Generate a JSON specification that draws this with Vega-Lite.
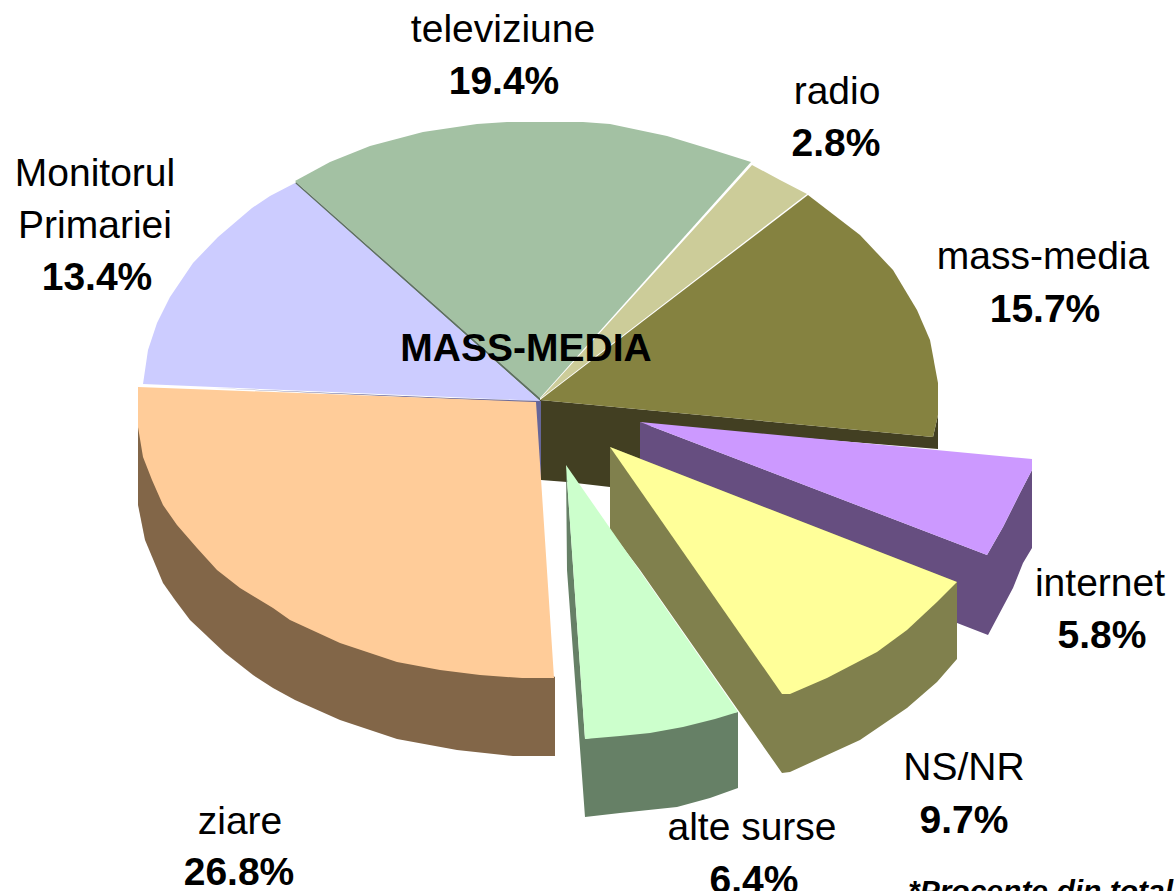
{"$schema":"https://vega.github.io/schema/vega-lite/v6.json","width":1174,"height":891,"padding":0,"autosize":{"type":"none"},"background":"white","config":{"view":{"stroke":null}},
"layer":[
{"data":{"values":[
{"p":"back","i":0,"x":540,"y":400},{"p":"back","i":1,"x":933,"y":437},{"p":"back","i":2,"x":938,"y":415},{"p":"back","i":3,"x":938,"y":449},{"p":"back","i":4,"x":640,"y":425},{"p":"back","i":5,"x":640,"y":460},{"p":"back","i":6,"x":610,"y":450},{"p":"back","i":7,"x":610,"y":487},{"p":"back","i":8,"x":567,"y":482},{"p":"back","i":9,"x":541,"y":480},
{"p":"televiziune","i":0,"x":540,"y":398},{"p":"televiziune","i":1,"x":295,"y":181},{"p":"televiziune","i":2,"x":330,"y":162},{"p":"televiziune","i":3,"x":370,"y":146},{"p":"televiziune","i":4,"x":423,"y":132},{"p":"televiziune","i":5,"x":477,"y":124},{"p":"televiziune","i":6,"x":507,"y":122},{"p":"televiziune","i":7,"x":583,"y":122},{"p":"televiziune","i":8,"x":610,"y":124},{"p":"televiziune","i":9,"x":667,"y":136},{"p":"televiziune","i":10,"x":713,"y":150},{"p":"televiziune","i":11,"x":751,"y":162},
{"p":"tvedge","i":0,"x":296,"y":182},{"p":"tvedge","i":1,"x":540,"y":398},{"p":"tvedge","i":2,"x":540,"y":401},{"p":"tvedge","i":3,"x":295,"y":184},
{"p":"radio","i":0,"x":540,"y":399},{"p":"radio","i":1,"x":752,"y":165},{"p":"radio","i":2,"x":780,"y":180},{"p":"radio","i":3,"x":807,"y":194},
{"p":"massmedia","i":0,"x":540,"y":400},{"p":"massmedia","i":1,"x":808,"y":195},{"p":"massmedia","i":2,"x":860,"y":235},{"p":"massmedia","i":3,"x":893,"y":270},{"p":"massmedia","i":4,"x":917,"y":310},{"p":"massmedia","i":5,"x":930,"y":340},{"p":"massmedia","i":6,"x":938,"y":383},{"p":"massmedia","i":7,"x":938,"y":415},{"p":"massmedia","i":8,"x":933,"y":437},
{"p":"monitorul","i":0,"x":540,"y":401},{"p":"monitorul","i":1,"x":295,"y":183},{"p":"monitorul","i":2,"x":270,"y":196},{"p":"monitorul","i":3,"x":252,"y":208},{"p":"monitorul","i":4,"x":218,"y":237},{"p":"monitorul","i":5,"x":193,"y":263},{"p":"monitorul","i":6,"x":170,"y":297},{"p":"monitorul","i":7,"x":157,"y":323},{"p":"monitorul","i":8,"x":148,"y":350},{"p":"monitorul","i":9,"x":143,"y":384},{"p":"monitorul","i":10,"x":450,"y":397},
{"p":"ziareside","i":0,"x":138,"y":427},{"p":"ziareside","i":1,"x":138,"y":505},{"p":"ziareside","i":2,"x":145,"y":540},{"p":"ziareside","i":3,"x":163,"y":583},{"p":"ziareside","i":4,"x":175,"y":600},{"p":"ziareside","i":5,"x":190,"y":620},{"p":"ziareside","i":6,"x":225,"y":653},{"p":"ziareside","i":7,"x":253,"y":675},{"p":"ziareside","i":8,"x":273,"y":688},{"p":"ziareside","i":9,"x":295,"y":700},{"p":"ziareside","i":10,"x":340,"y":720},{"p":"ziareside","i":11,"x":397,"y":739},{"p":"ziareside","i":12,"x":457,"y":750},{"p":"ziareside","i":13,"x":513,"y":756},{"p":"ziareside","i":14,"x":555,"y":756},{"p":"ziareside","i":15,"x":555,"y":677},
{"p":"strip","i":0,"x":213,"y":388},{"p":"strip","i":1,"x":450,"y":398},{"p":"strip","i":2,"x":541,"y":401},{"p":"strip","i":3,"x":541,"y":480},{"p":"strip","i":4,"x":536,"y":480},{"p":"strip","i":5,"x":536,"y":403},
{"p":"ziare","i":0,"x":536,"y":402},{"p":"ziare","i":1,"x":138,"y":387},{"p":"ziare","i":2,"x":138,"y":427},{"p":"ziare","i":3,"x":143,"y":457},{"p":"ziare","i":4,"x":152,"y":480},{"p":"ziare","i":5,"x":163,"y":505},{"p":"ziare","i":6,"x":177,"y":525},{"p":"ziare","i":7,"x":197,"y":548},{"p":"ziare","i":8,"x":217,"y":570},{"p":"ziare","i":9,"x":240,"y":588},{"p":"ziare","i":10,"x":273,"y":608},{"p":"ziare","i":11,"x":290,"y":620},{"p":"ziare","i":12,"x":340,"y":643},{"p":"ziare","i":13,"x":397,"y":662},{"p":"ziare","i":14,"x":440,"y":670},{"p":"ziare","i":15,"x":480,"y":675},{"p":"ziare","i":16,"x":522,"y":678},{"p":"ziare","i":17,"x":554,"y":678},
{"p":"internetside","i":0,"x":640,"y":422},{"p":"internetside","i":1,"x":987,"y":555},{"p":"internetside","i":2,"x":1003,"y":527},{"p":"internetside","i":3,"x":1020,"y":493},{"p":"internetside","i":4,"x":1032,"y":470},{"p":"internetside","i":5,"x":1032,"y":548},{"p":"internetside","i":6,"x":1023,"y":563},{"p":"internetside","i":7,"x":1013,"y":588},{"p":"internetside","i":8,"x":988,"y":635},{"p":"internetside","i":9,"x":640,"y":500},
{"p":"internet","i":0,"x":640,"y":422},{"p":"internet","i":1,"x":1032,"y":459},{"p":"internet","i":2,"x":1032,"y":470},{"p":"internet","i":3,"x":1020,"y":493},{"p":"internet","i":4,"x":1003,"y":527},{"p":"internet","i":5,"x":987,"y":555},
{"p":"nsside","i":0,"x":610,"y":447},{"p":"nsside","i":1,"x":957,"y":582},{"p":"nsside","i":2,"x":957,"y":659},{"p":"nsside","i":3,"x":937,"y":682},{"p":"nsside","i":4,"x":907,"y":708},{"p":"nsside","i":5,"x":860,"y":740},{"p":"nsside","i":6,"x":790,"y":772},{"p":"nsside","i":7,"x":782,"y":773},{"p":"nsside","i":8,"x":640,"y":570},{"p":"nsside","i":9,"x":610,"y":530},
{"p":"ns","i":0,"x":610,"y":447},{"p":"ns","i":1,"x":957,"y":582},{"p":"ns","i":2,"x":937,"y":602},{"p":"ns","i":3,"x":907,"y":630},{"p":"ns","i":4,"x":877,"y":652},{"p":"ns","i":5,"x":827,"y":678},{"p":"ns","i":6,"x":790,"y":694},{"p":"ns","i":7,"x":782,"y":694},
{"p":"alteside","i":0,"x":566,"y":465},{"p":"alteside","i":1,"x":585,"y":739},{"p":"alteside","i":2,"x":738,"y":712},{"p":"alteside","i":3,"x":738,"y":788},{"p":"alteside","i":4,"x":710,"y":798},{"p":"alteside","i":5,"x":677,"y":807},{"p":"alteside","i":6,"x":620,"y":813},{"p":"alteside","i":7,"x":585,"y":817},{"p":"alteside","i":8,"x":567,"y":570},
{"p":"alte","i":0,"x":566,"y":465},{"p":"alte","i":1,"x":738,"y":712},{"p":"alte","i":2,"x":715,"y":719},{"p":"alte","i":3,"x":683,"y":727},{"p":"alte","i":4,"x":650,"y":733},{"p":"alte","i":5,"x":620,"y":736},{"p":"alte","i":6,"x":585,"y":739}
]},
"mark":{"type":"line","strokeWidth":0,"interpolate":"linear","clip":false},
"encoding":{"x":{"field":"x","type":"quantitative","scale":{"domain":[0,1174],"nice":false,"zero":false},"axis":null},"y":{"field":"y","type":"quantitative","scale":{"domain":[891,0],"nice":false,"zero":false},"axis":null},"detail":{"field":"p"},"order":{"field":"i"},
"fill":{"field":"p","type":"nominal","legend":null,"scale":{"domain":["back","televiziune","tvedge","radio","massmedia","monitorul","ziareside","strip","ziare","internetside","internet","nsside","ns","alteside","alte"],"range":["#423F22","#A3C1A3","#5E7260","#CCCC99","#858240","#CCCCFF","#826648","#666699","#FFCC99","#664E80","#CC99FF","#80804D","#FFFF99","#668066","#CCFFCC"]}}}},
{"data":{"values":[
{"t":"televiziune","x":503,"y":42},{"t":"radio","x":837,"y":104},{"t":"mass-media","x":1043,"y":269},{"t":"Monitorul","x":95,"y":186},{"t":"Primariei","x":95,"y":238},{"t":"internet","x":1100,"y":596},{"t":"NS/NR","x":964,"y":780},{"t":"alte surse","x":752,"y":840},{"t":"ziare","x":240,"y":834}]},
"mark":{"type":"text","font":"Liberation Sans","fontSize":39,"align":"center","baseline":"alphabetic","color":"black"},
"encoding":{"x":{"field":"x","type":"quantitative"},"y":{"field":"y","type":"quantitative"},"text":{"field":"t"}}},
{"data":{"values":[
{"t":"19.4%","x":504,"y":94},{"t":"2.8%","x":836,"y":156},{"t":"15.7%","x":1045,"y":322},{"t":"13.4%","x":97,"y":290},{"t":"5.8%","x":1102,"y":648},{"t":"9.7%","x":964,"y":833},{"t":"6.4%","x":754,"y":893},{"t":"26.8%","x":239,"y":885},{"t":"MASS-MEDIA","x":526,"y":361}]},
"mark":{"type":"text","font":"Liberation Sans","fontSize":39,"fontWeight":"bold","align":"center","baseline":"alphabetic","color":"black"},
"encoding":{"x":{"field":"x","type":"quantitative"},"y":{"field":"y","type":"quantitative"},"text":{"field":"t"}}},
{"data":{"values":[{"t":"*Procente din total","x":908,"y":901}]},
"mark":{"type":"text","font":"Liberation Sans","fontSize":30,"fontWeight":"bold","fontStyle":"italic","align":"left","baseline":"alphabetic","color":"black"},
"encoding":{"x":{"field":"x","type":"quantitative"},"y":{"field":"y","type":"quantitative"},"text":{"field":"t"}}}
]}
